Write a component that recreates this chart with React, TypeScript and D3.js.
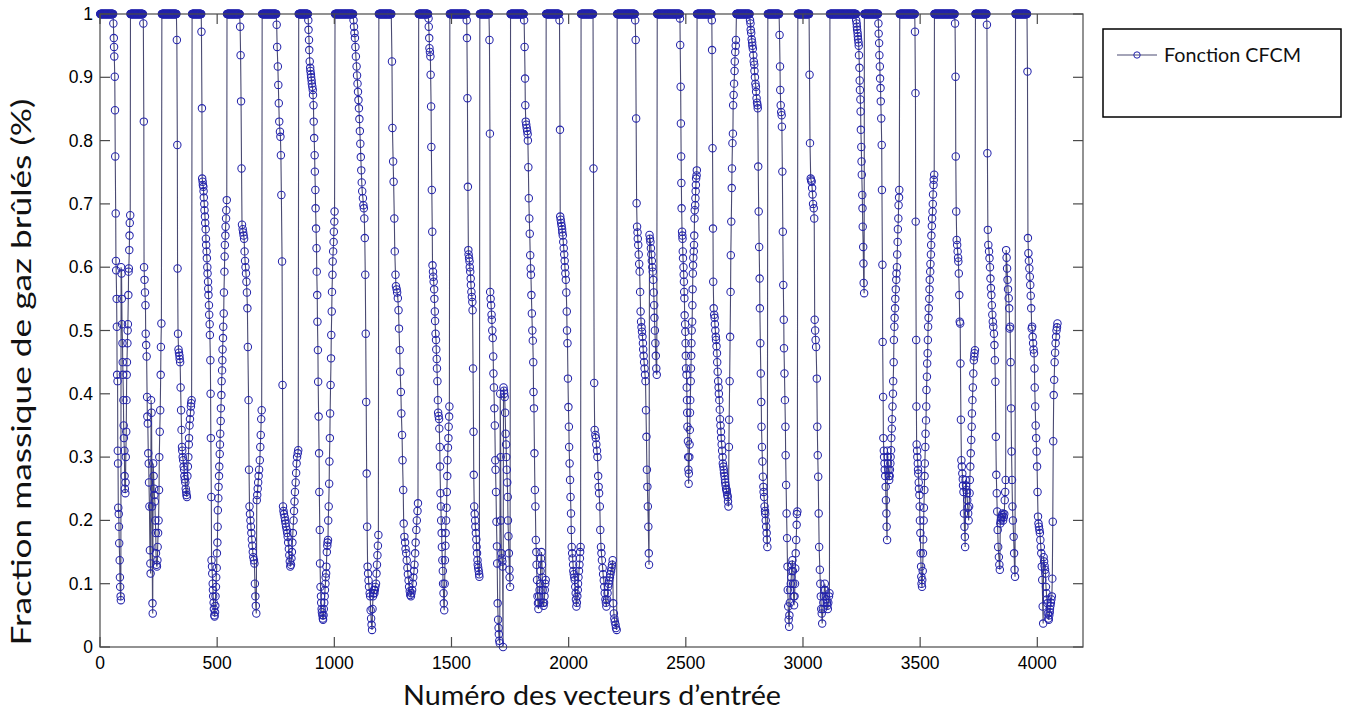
import React from 'react';
import * as d3 from 'd3';

// ---------- data ----------
const xTicks = [0, 500, 1000, 1500, 2000, 2500, 3000, 3500, 4000];
const yTicks = [0, 0.1, 0.2, 0.3, 0.4, 0.5, 0.6, 0.7, 0.8, 0.9, 1];
const yTickLabels = ['0', '0.1', '0.2', '0.3', '0.4', '0.5', '0.6', '0.7', '0.8', '0.9', '1'];
const xDomainMax = 4195;
const lastIndex = 4086;

// runs of input vectors whose value is 1 (saturated), [first, last]
const plateaus: [number, number][] = [
  [1, 56], [130, 183], [264, 326], [393, 432], [542, 596], [692, 752], [848, 887],
  [1003, 1080], [1190, 1243], [1360, 1400], [1493, 1563], [1621, 1660], [1752, 1808],
  [1904, 1959], [2053, 2104], [2207, 2282], [2378, 2474], [2548, 2609], [2716, 2772],
  [2850, 2898], [2978, 3026], [3115, 3226], [3262, 3320], [3413, 3477], [3561, 3647],
  [3736, 3783], [3907, 3956],
];

// values between consecutive runs of 1
const g01 = [0.985,0.962,0.948,0.933,0.901,0.848,0.775,0.685,0.61,0.595,0.55,0.506,0.43,0.42,0.31,0.29,0.22,0.21,0.19,0.164,0.137,0.11,0.095,0.08,0.074,0.6,0.59,0.55,0.51,0.48,0.45,0.43,0.39,0.35,0.33,0.31,0.27,0.25,0.243,0.26,0.3,0.34,0.39,0.43,0.45,0.48,0.5,0.51,0.556,0.593,0.598,0.627,0.65,0.67,0.682];
const g02 = [0.985,0.83,0.6,0.58,0.56,0.54,0.495,0.477,0.459,0.395,0.364,0.353,0.306,0.29,0.26,0.222,0.153,0.132,0.116,0.39,0.37,0.222,0.069,0.053,0.29,0.27,0.25,0.24,0.23,0.2,0.18,0.148,0.13,0.127,0.137,0.158,0.18,0.2,0.248,0.3,0.34,0.374,0.43,0.474,0.511];
const g03 = [0.959,0.793,0.598,0.495,0.47,0.465,0.46,0.455,0.45,0.41,0.374,0.343,0.316,0.31,0.3,0.295,0.285,0.28,0.27,0.265,0.26,0.25,0.245,0.24,0.237,0.27,0.285,0.3,0.32,0.33,0.35,0.36,0.37,0.38,0.385,0.39];
const g04 = [0.972,0.851,0.74,0.735,0.73,0.727,0.72,0.71,0.7,0.69,0.68,0.67,0.66,0.645,0.635,0.625,0.614,0.6,0.59,0.577,0.566,0.556,0.54,0.525,0.51,0.493,0.453,0.4,0.33,0.237,0.137,0.127,0.116,0.1,0.09,0.08,0.07,0.06,0.05,0.048,0.055,0.065,0.08,0.095,0.11,0.125,0.148,0.165,0.19,0.216,0.235,0.253,0.27,0.285,0.305,0.32,0.337,0.357,0.377,0.398,0.42,0.437,0.453,0.47,0.488,0.506,0.527,0.56,0.593,0.617,0.635,0.65,0.664,0.677,0.69,0.706];
const g05 = [0.98,0.935,0.862,0.756,0.667,0.66,0.655,0.65,0.645,0.625,0.61,0.6,0.59,0.577,0.56,0.535,0.474,0.39,0.28,0.222,0.21,0.2,0.19,0.18,0.17,0.16,0.15,0.142,0.137,0.132,0.1,0.08,0.065,0.053,0.232,0.24,0.25,0.26,0.27,0.28,0.295,0.316,0.335,0.36,0.374];
const g06 = [0.983,0.948,0.917,0.888,0.859,0.83,0.814,0.806,0.777,0.714,0.609,0.414,0.222,0.215,0.21,0.205,0.2,0.195,0.19,0.185,0.18,0.174,0.165,0.155,0.145,0.135,0.127,0.13,0.14,0.15,0.165,0.18,0.2,0.215,0.23,0.245,0.26,0.275,0.29,0.3,0.306,0.311];
const g07 = [0.99,0.975,0.959,0.943,0.925,0.915,0.91,0.905,0.9,0.895,0.89,0.885,0.88,0.872,0.856,0.83,0.804,0.777,0.751,0.722,0.693,0.661,0.63,0.593,0.556,0.514,0.469,0.419,0.364,0.306,0.245,0.185,0.132,0.095,0.08,0.07,0.06,0.055,0.05,0.045,0.043,0.05,0.06,0.07,0.08,0.09,0.1,0.11,0.116,0.127,0.15,0.16,0.165,0.169,0.2,0.222,0.258,0.293,0.33,0.369,0.414,0.456,0.493,0.53,0.561,0.588,0.609,0.625,0.64,0.656,0.672,0.688];
const g08 = [0.99,0.98,0.97,0.962,0.948,0.933,0.917,0.903,0.89,0.877,0.864,0.851,0.834,0.815,0.795,0.774,0.753,0.734,0.72,0.709,0.698,0.693,0.677,0.646,0.588,0.495,0.387,0.274,0.19,0.127,0.116,0.105,0.095,0.085,0.08,0.058,0.045,0.035,0.027,0.06,0.08,0.085,0.09,0.085,0.09,0.095,0.1,0.116,0.13,0.145,0.16,0.177];
const g09 = [0.925,0.82,0.767,0.735,0.677,0.625,0.588,0.57,0.565,0.56,0.551,0.532,0.503,0.469,0.435,0.403,0.369,0.335,0.295,0.248,0.195,0.174,0.165,0.155,0.148,0.137,0.125,0.115,0.105,0.095,0.088,0.082,0.08,0.085,0.09,0.1,0.11,0.12,0.13,0.148,0.165,0.185,0.2,0.215,0.227];
const g10 = [0.993,0.98,0.962,0.946,0.94,0.933,0.904,0.854,0.79,0.722,0.656,0.603,0.593,0.585,0.577,0.565,0.55,0.53,0.515,0.495,0.485,0.47,0.455,0.44,0.42,0.39,0.37,0.365,0.36,0.345,0.316,0.285,0.243,0.222,0.2,0.18,0.158,0.137,0.12,0.1,0.085,0.069,0.058,0.1,0.137,0.16,0.18,0.2,0.22,0.245,0.27,0.295,0.315,0.33,0.348,0.364,0.38];
const g11 = [0.99,0.962,0.867,0.727,0.627,0.62,0.614,0.609,0.6,0.593,0.582,0.572,0.561,0.553,0.545,0.532,0.44,0.34,0.272,0.222,0.21,0.2,0.19,0.18,0.17,0.158,0.148,0.137,0.13,0.125,0.12,0.115,0.111];
const g12 = [0.959,0.811,0.561,0.55,0.54,0.525,0.517,0.5,0.488,0.459,0.432,0.41,0.377,0.35,0.295,0.28,0.245,0.198,0.159,0.132,0.069,0.043,0.03,0.02,0.01,0.006,0.4,0.3,0.2,0.148,0.14,0.135,0.127,0.0,0.41,0.405,0.4,0.395,0.37,0.337,0.32,0.3,0.28,0.26,0.237,0.2,0.175,0.148,0.122,0.11,0.095];
const g13 = [0.99,0.948,0.898,0.856,0.83,0.825,0.82,0.815,0.81,0.8,0.758,0.709,0.677,0.653,0.619,0.598,0.588,0.556,0.527,0.5,0.484,0.45,0.403,0.377,0.306,0.248,0.222,0.169,0.15,0.13,0.106,0.08,0.069,0.06,0.07,0.08,0.09,0.1,0.12,0.14,0.15,0.13,0.11,0.09,0.07,0.065,0.07,0.08,0.09,0.1,0.106];
const g14 = [0.99,0.817,0.68,0.675,0.67,0.665,0.66,0.655,0.65,0.64,0.63,0.62,0.61,0.6,0.59,0.58,0.56,0.53,0.5,0.48,0.424,0.379,0.348,0.316,0.29,0.264,0.237,0.211,0.185,0.158,0.148,0.14,0.13,0.12,0.115,0.11,0.106,0.095,0.085,0.075,0.064,0.07,0.08,0.09,0.1,0.11,0.12,0.13,0.14,0.15,0.158];
const g15 = [0.756,0.417,0.343,0.335,0.33,0.32,0.31,0.3,0.27,0.253,0.243,0.222,0.185,0.158,0.148,0.137,0.125,0.115,0.105,0.095,0.085,0.075,0.07,0.064,0.075,0.085,0.095,0.1,0.105,0.11,0.115,0.12,0.125,0.13,0.137,0.069,0.053,0.045,0.04,0.035,0.03,0.027];
const g16 = [0.99,0.959,0.835,0.701,0.664,0.655,0.645,0.635,0.62,0.605,0.593,0.561,0.53,0.514,0.505,0.498,0.49,0.48,0.47,0.46,0.45,0.44,0.43,0.42,0.374,0.332,0.28,0.253,0.222,0.19,0.148,0.13,0.651,0.645,0.64,0.63,0.62,0.61,0.6,0.593,0.58,0.56,0.54,0.52,0.5,0.48,0.46,0.44,0.43];
const g17 = [0.993,0.951,0.885,0.827,0.775,0.733,0.693,0.656,0.65,0.645,0.625,0.614,0.6,0.588,0.577,0.561,0.551,0.524,0.51,0.498,0.48,0.46,0.44,0.43,0.41,0.39,0.37,0.348,0.325,0.3,0.28,0.258,0.274,0.3,0.32,0.343,0.37,0.39,0.42,0.44,0.46,0.48,0.5,0.514,0.54,0.565,0.59,0.603,0.615,0.625,0.635,0.65,0.677,0.69,0.698,0.709,0.72,0.73,0.74,0.745,0.753];
const g18 = [0.99,0.943,0.788,0.661,0.577,0.535,0.525,0.52,0.51,0.5,0.49,0.485,0.475,0.464,0.45,0.435,0.42,0.41,0.4,0.39,0.375,0.36,0.35,0.34,0.33,0.32,0.31,0.3,0.29,0.285,0.28,0.275,0.27,0.265,0.26,0.255,0.25,0.248,0.245,0.24,0.237,0.23,0.222,0.316,0.359,0.42,0.49,0.561,0.619,0.672,0.725,0.756,0.796,0.811,0.856,0.872,0.89,0.91,0.925,0.94,0.95,0.959];
const g19 = [0.99,0.985,0.975,0.97,0.96,0.955,0.95,0.945,0.935,0.925,0.92,0.91,0.9,0.89,0.885,0.877,0.867,0.86,0.856,0.851,0.759,0.688,0.632,0.582,0.535,0.48,0.432,0.387,0.348,0.316,0.293,0.269,0.253,0.245,0.237,0.222,0.215,0.21,0.2,0.19,0.18,0.17,0.158];
const g20 = [0.967,0.917,0.88,0.856,0.845,0.84,0.822,0.751,0.656,0.572,0.517,0.472,0.432,0.39,0.348,0.303,0.256,0.211,0.172,0.127,0.09,0.064,0.043,0.032,0.05,0.07,0.09,0.1,0.11,0.12,0.13,0.137,0.12,0.1,0.08,0.066,0.08,0.1,0.124,0.148,0.169,0.193,0.21,0.214];
const g21 = [0.904,0.796,0.74,0.737,0.735,0.725,0.715,0.7,0.693,0.677,0.517,0.5,0.485,0.474,0.424,0.348,0.303,0.269,0.211,0.158,0.122,0.1,0.08,0.06,0.053,0.037,0.06,0.07,0.08,0.09,0.1,0.09,0.08,0.075,0.07,0.065,0.06,0.07,0.08,0.085];
const g22 = [0.99,0.985,0.98,0.975,0.97,0.965,0.96,0.955,0.95,0.935,0.915,0.895,0.88,0.865,0.846,0.817,0.79,0.767,0.746,0.714,0.693,0.664,0.632,0.606,0.575,0.559];
const g23 = [0.985,0.969,0.954,0.935,0.917,0.898,0.883,0.862,0.835,0.793,0.722,0.604,0.482,0.395,0.33,0.31,0.3,0.29,0.28,0.27,0.253,0.232,0.211,0.19,0.169,0.31,0.3,0.29,0.28,0.27,0.264,0.27,0.28,0.29,0.3,0.311,0.33,0.345,0.36,0.38,0.4,0.42,0.45,0.485,0.506,0.52,0.535,0.55,0.565,0.58,0.59,0.6,0.62,0.64,0.66,0.677,0.698,0.71,0.722];
const g24 = [0.972,0.875,0.672,0.485,0.38,0.32,0.31,0.3,0.29,0.28,0.274,0.26,0.25,0.24,0.222,0.2,0.18,0.148,0.127,0.111,0.1,0.095,0.106,0.12,0.148,0.17,0.2,0.22,0.248,0.27,0.29,0.316,0.337,0.358,0.38,0.406,0.427,0.448,0.464,0.485,0.506,0.52,0.535,0.55,0.565,0.58,0.593,0.605,0.62,0.635,0.65,0.665,0.677,0.688,0.7,0.715,0.73,0.738,0.746];
const g25 = [0.985,0.901,0.775,0.688,0.643,0.635,0.625,0.615,0.609,0.59,0.556,0.514,0.511,0.448,0.359,0.295,0.285,0.274,0.265,0.255,0.245,0.211,0.19,0.174,0.158,0.264,0.255,0.248,0.243,0.232,0.22,0.211,0.2,0.222,0.243,0.264,0.285,0.306,0.327,0.348,0.369,0.39,0.41,0.432,0.453,0.459,0.464,0.469];
const g26 = [0.983,0.78,0.659,0.635,0.625,0.614,0.6,0.582,0.567,0.556,0.54,0.525,0.514,0.506,0.495,0.477,0.453,0.419,0.332,0.272,0.243,0.214,0.185,0.158,0.142,0.13,0.122,0.195,0.2,0.203,0.205,0.208,0.211,0.2,0.205,0.21,0.232,0.245,0.264,0.627,0.615,0.598,0.58,0.565,0.551,0.535,0.503,0.506,0.45,0.377,0.309,0.264,0.222,0.2,0.174,0.148,0.122,0.111];
const g27 = [0.909,0.646,0.622,0.61,0.598,0.585,0.572,0.555,0.535,0.503,0.506,0.49,0.48,0.47,0.464,0.44,0.41,0.38,0.35,0.33,0.309,0.285,0.245,0.206,0.195,0.19,0.185,0.18,0.169,0.158,0.148,0.127,0.106,0.064,0.037,0.142,0.135,0.128,0.122,0.116,0.095,0.085,0.075,0.069,0.053,0.045,0.043,0.05,0.055,0.06,0.065,0.07,0.075,0.08,0.108,0.198,0.325,0.398,0.422,0.45,0.465,0.48,0.49,0.5,0.505,0.511];

const gaps = [g01,g02,g03,g04,g05,g06,g07,g08,g09,g10,g11,g12,g13,g14,g15,g16,g17,g18,g19,g20,g21,g22,g23,g24,g25,g26,g27];

type Pt = { i: number; v: number };

function buildSeries(): Pt[] {
  const pts: Pt[] = [];
  plateaus.forEach(([s, e], k) => {
    for (let i = s; i <= e; i++) pts.push({ i, v: 1 });
    const vals = gaps[k];
    const last = k + 1 >= plateaus.length;
    const b = last ? lastIndex : plateaus[k + 1][0];
    const n = vals.length;
    vals.forEach((v, j) => {
      const i = last ? e + Math.round(((j + 1) * (b - e)) / n) : e + Math.round(((j + 1) * (b - e)) / (n + 1));
      pts.push({ i, v });
    });
  });
  return pts;
}

const W = 1351;
const H = 712;
const M = { left: 100, right: 1083, top: 14, bottom: 647 };
const AXIS = '#4a4a4a';
const LINE = '#4a4a72';
const MARK = '#2424ac';
const TICKFONT = "'Liberation Sans', Arial, sans-serif";
const LABELFONT = "Lato, 'Open Sans', sans-serif";

export default function App() {
  const data = React.useMemo(buildSeries, []);
  const x = d3.scaleLinear().domain([0, xDomainMax]).range([M.left, M.right]);
  const y = d3.scaleLinear().domain([0, 1]).range([M.bottom, M.top]);
  const path = d3.line<Pt>().x((d) => x(d.i)).y((d) => y(d.v))(data) || '';
  const tick = 10;

  return (
    <svg width={W} height={H} style={{ position: 'absolute', left: 0, top: 0, background: '#fff' }}>
      <rect x={0} y={0} width={W} height={H} fill="#fff" />
      <path d={path} fill="none" stroke={LINE} strokeWidth={1.1} />
      <g fill="none" stroke={MARK} strokeWidth={1.05}>
        {data.map((d, k) => (
          <circle key={k} cx={x(d.i)} cy={y(d.v)} r={3.7} />
        ))}
      </g>
      {/* frame */}
      <rect x={M.left} y={M.top} width={M.right - M.left} height={M.bottom - M.top} fill="none" stroke={AXIS} strokeWidth={1.2} />
      {xTicks.map((t) => (
        <g key={'x' + t}>
          <line x1={x(t)} x2={x(t)} y1={M.bottom} y2={M.bottom - tick} stroke={AXIS} strokeWidth={1.2} />
          <line x1={x(t)} x2={x(t)} y1={M.top} y2={M.top + tick} stroke={AXIS} strokeWidth={1.2} />
          <text x={x(t)} y={669} textAnchor="middle" fontFamily={TICKFONT} fontSize={17.5} fill="#000">
            {t}
          </text>
        </g>
      ))}
      {yTicks.map((t, k) => (
        <g key={'y' + t}>
          <line x1={M.left} x2={M.left + tick} y1={y(t)} y2={y(t)} stroke={AXIS} strokeWidth={1.2} />
          <line x1={M.right} x2={M.right - tick} y1={y(t)} y2={y(t)} stroke={AXIS} strokeWidth={1.2} />
          <text x={93} y={y(t) + 6} textAnchor="end" fontFamily={TICKFONT} fontSize={17.5} fill="#000">
            {yTickLabels[k]}
          </text>
        </g>
      ))}
      {/* axis labels */}
      <text x={592} y={705} textAnchor="middle" fontFamily={LABELFONT} fontSize={27} fill="#111" textLength={378} lengthAdjust="spacingAndGlyphs">
        Numéro des vecteurs d’entrée
      </text>
      <text transform="translate(31,372) rotate(-90)" textAnchor="middle" fontFamily={LABELFONT} fontSize={27} fill="#111" textLength={547} lengthAdjust="spacingAndGlyphs">
        Fraction massique de gaz brûlés (%)
      </text>
      {/* legend */}
      <rect x={1103} y={29} width={238} height={88} fill="#fff" stroke="#000" strokeWidth={1.5} />
      <line x1={1117} x2={1157} y1={55} y2={55} stroke={LINE} strokeWidth={1.1} />
      <circle cx={1137} cy={55} r={3.2} fill="none" stroke={MARK} strokeWidth={1} />
      <text x={1164} y={62} fontFamily={LABELFONT} fontSize={20} fill="#111" textLength={137} lengthAdjust="spacingAndGlyphs">
        Fonction CFCM
      </text>
    </svg>
  );
}
